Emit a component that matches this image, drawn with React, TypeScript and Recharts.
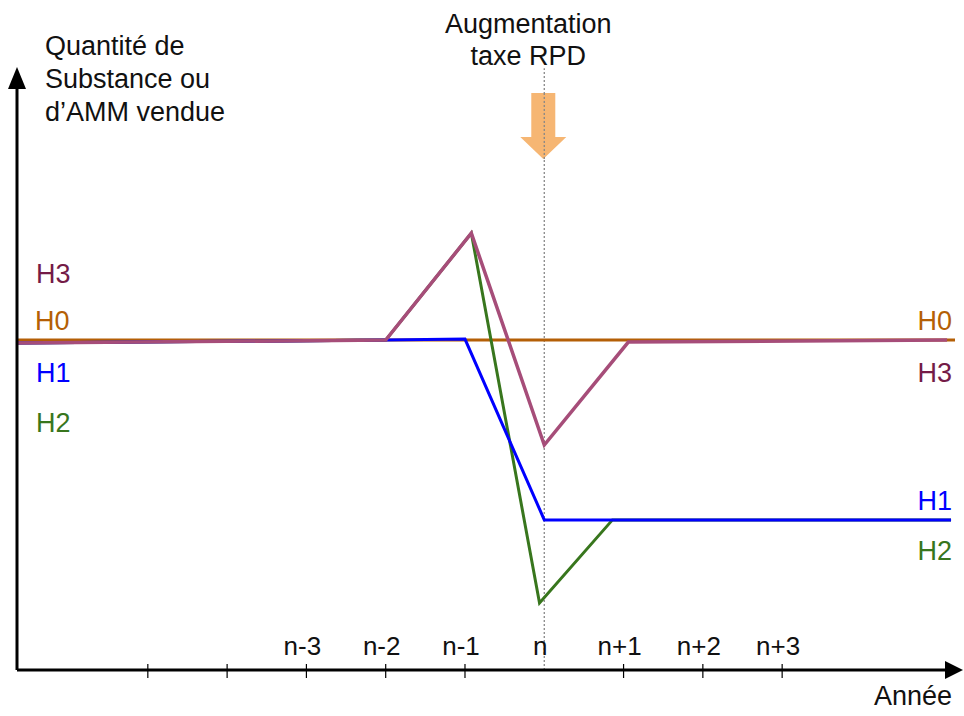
import React from 'react';
import { LineChart, Line, XAxis, YAxis, ReferenceLine, ReferenceDot } from 'recharts';

// years relative to n (n = 0)
const xMin = -6.65;
const xMax = 5.18;
const yMax = 176.4;
const tickYears = [-5, -4, -3, -2, -1, 1, 2, 3];
const labelYears = [-3, -2, -1, 0, 1, 2, 3];
const labelTexts = ['n-3', 'n-2', 'n-1', 'n', 'n+1', 'n+2', 'n+3'];
const allTicks = [-5, -4, -3, -2, -1, 0, 1, 2, 3];

// scenario curves (arbitrary quantity, baseline = 100)
const h0X = [xMin, xMax];
const h0Y = [100, 100];
const h1X = [xMin, -2, -1, 0, 5.13];
const h1Y = [99.1, 100, 100.3, 45.5, 45.5];
const h2X = [xMin, -2, -0.92, -0.06, 0.86, 5.13];
const h2Y = [99.1, 100, 132.4, 20.3, 45.5, 45.5];
const h3X = [xMin, -2, -0.92, 0, 1.06, 5.08];
const h3Y = [99.1, 100, 132.4, 68.2, 99.4, 100];

const toRows = (xs: number[], ys: number[]) => xs.map((x, i) => ({ x, y: ys[i] }));

const FONT = '"Liberation Sans", Arial, sans-serif';
const C = {
  h0: '#b45f06',
  h1: '#0000ff',
  h2: '#38761d',
  h3line: '#a64d79',
  h3text: '#741b47',
  arrow: '#f6b26b',
};

const YearTick = (props: any) => {
  const { x, y, payload } = props;
  const v = payload.value;
  const li = labelYears.indexOf(v);
  return (
    <g>
      {tickYears.includes(v) && <line x1={x} x2={x} y1={y - 6} y2={y + 8} stroke="#000" strokeWidth={1.2} />}
      {li >= 0 && (
        <text x={x - 4} y={y - 15} textAnchor="middle" fontSize={26} fontFamily={FONT} fill="#111">
          {labelTexts[li]}
        </text>
      )}
    </g>
  );
};

const App: React.FC = () => {
  return (
    <div style={{ position: 'absolute', left: 0, top: 0, width: 964, height: 716, background: '#fff' }}>
      <LineChart width={964} height={716} margin={{ top: 88, left: 16, right: 9, bottom: 45 }}>
        <XAxis
          type="number"
          dataKey="x"
          domain={[xMin, xMax]}
          allowDataOverflow
          ticks={allTicks}
          interval={0}
          height={1}
          tickSize={0}
          tickMargin={0}
          tickLine={false}
          axisLine={{ stroke: '#000', strokeWidth: 3 }}
          tick={<YearTick />}
        />
        <YAxis
          type="number"
          domain={[0, yMax]}
          allowDataOverflow
          width={1}
          tick={false}
          tickLine={false}
          axisLine={{ stroke: '#000', strokeWidth: 3 }}
        />

        <ReferenceLine
          segment={[{ x: 0, y: 0 }, { x: 0, y: 182.4 }]}
          ifOverflow="visible"
          stroke="#888"
          strokeWidth={1.3}
          strokeDasharray="2 2"
        />

        <Line data={toRows(h0X, h0Y)} dataKey="y" type="linear" stroke={C.h0} strokeWidth={3} dot={false} activeDot={false} isAnimationActive={false} />
        <Line data={toRows(h2X, h2Y)} dataKey="y" type="linear" stroke={C.h2} strokeWidth={3} dot={false} activeDot={false} isAnimationActive={false} />
        <Line data={toRows(h1X, h1Y)} dataKey="y" type="linear" stroke={C.h1} strokeWidth={3} dot={false} activeDot={false} isAnimationActive={false} />
        <Line data={toRows(h3X, h3Y)} dataKey="y" type="linear" stroke={C.h3line} strokeWidth={3.5} dot={false} activeDot={false} isAnimationActive={false} />

        {/* orange arrow + annotation at year n */}
        <ReferenceDot
          x={0}
          y={yMax}
          ifOverflow="visible"
          shape={(p: any) => {
            const cx = p.cx - 1;
            const cy = p.cy;
            return (
              <g>
                <polygon
                  points={`${cx - 12},${cy + 5} ${cx + 12},${cy + 5} ${cx + 12},${cy + 49} ${cx + 23},${cy + 49} ${cx},${cy + 71} ${cx - 23},${cy + 49} ${cx - 12},${cy + 49}`}
                  fill={C.arrow}
                  fillOpacity={0.95}
                />
                <line x1={p.cx} x2={p.cx} y1={cy + 5} y2={cy + 71} stroke="#888" strokeWidth={1.3} strokeDasharray="2 2" />
                <text x={cx - 15} y={cy - 55} textAnchor="middle" fontSize={27} fontFamily={FONT} fill="#111">Augmentation</text>
                <text x={cx - 15} y={cy - 23} textAnchor="middle" fontSize={27} fontFamily={FONT} fill="#111">taxe RPD</text>
              </g>
            );
          }}
        />

        {/* y axis arrow + title */}
        <ReferenceDot
          x={xMin}
          y={yMax}
          ifOverflow="visible"
          shape={(p: any) => (
            <g>
              <polygon points={`${p.cx},${p.cy - 21} ${p.cx + 9},${p.cy + 1} ${p.cx - 9},${p.cy + 1}`} fill="#000" />
              <text x={p.cx + 28} y={p.cy - 33} fontSize={27} fontFamily={FONT} fill="#111">Quantité de</text>
              <text x={p.cx + 28} y={p.cy} fontSize={27} fontFamily={FONT} fill="#111">Substance ou</text>
              <text x={p.cx + 28} y={p.cy + 33} fontSize={27} fontFamily={FONT} fill="#111">d’AMM vendue</text>
            </g>
          )}
        />

        {/* x axis arrow + title */}
        <ReferenceDot
          x={xMax}
          y={0}
          ifOverflow="visible"
          shape={(p: any) => (
            <g>
              <polygon points={`${p.cx + 8},${p.cy} ${p.cx - 10},${p.cy - 9} ${p.cx - 10},${p.cy + 9}`} fill="#000" />
              <text x={p.cx - 3} y={p.cy + 35} textAnchor="end" fontSize={27} fontFamily={FONT} fill="#111">Année</text>
            </g>
          )}
        />

        {/* left series labels */}
        <ReferenceDot
          x={xMin}
          y={100}
          ifOverflow="visible"
          shape={(p: any) => (
            <g fontSize={27} fontFamily={FONT}>
              <text x={p.cx + 19} y={p.cy - 57} fill={C.h3text}>H3</text>
              <text x={p.cx + 18} y={p.cy - 10} fill={C.h0}>H0</text>
              <text x={p.cx + 19} y={p.cy + 42} fill={C.h1}>H1</text>
              <text x={p.cx + 19} y={p.cy + 92} fill={C.h2}>H2</text>
            </g>
          )}
        />

        {/* right series labels */}
        <ReferenceDot
          x={xMax}
          y={h0Y[h0Y.length - 1]}
          ifOverflow="visible"
          shape={(p: any) => (
            <g fontSize={27} fontFamily={FONT} textAnchor="end">
              <text x={p.cx - 3} y={p.cy - 10} fill={C.h0}>H0</text>
              <text x={p.cx - 3} y={p.cy + 42} fill={C.h3text}>H3</text>
            </g>
          )}
        />
        <ReferenceDot
          x={xMax}
          y={h1Y[h1Y.length - 1]}
          ifOverflow="visible"
          shape={(p: any) => (
            <g fontSize={27} fontFamily={FONT} textAnchor="end">
              <text x={p.cx - 3} y={p.cy - 10} fill={C.h1}>H1</text>
              <text x={p.cx - 3} y={p.cy + 40} fill={C.h2}>H2</text>
            </g>
          )}
        />
      </LineChart>
    </div>
  );
};

export default App;
